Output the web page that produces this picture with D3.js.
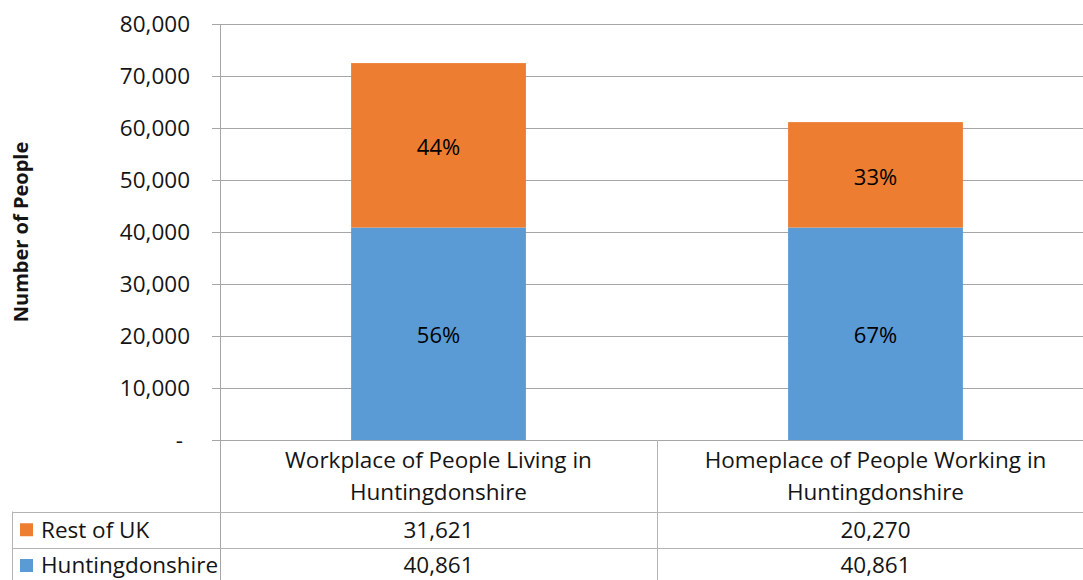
<!DOCTYPE html>
<html>
<head>
<meta charset="utf-8">
<script src="https://cdn.jsdelivr.net/npm/d3@7"></script>
<style>
  html, body { margin: 0; padding: 0; background: #fff; }
  svg { display: block; font-family: "Open Sans", "Noto Sans", sans-serif; }
</style>
</head>
<body>
<svg id="chart" width="1083" height="580"></svg>
<script>
// Commuting flows for Huntingdonshire, stacked by origin/destination
const categories = [
  ["Workplace of People Living in", "Huntingdonshire"],
  ["Homeplace of People Working in", "Huntingdonshire"]
];
const seriesNames = ["Huntingdonshire", "Rest of UK"];
const huntingdonshire = [40861, 40861];
const restOfUK = [31621, 20270];
const yTicks = [0, 10000, 20000, 30000, 40000, 50000, 60000, 70000, 80000];
const colors = { "Huntingdonshire": "#5b9bd5", "Rest of UK": "#ed7d31" };

const rows = categories.map((c, i) => ({
  key: i,
  "Huntingdonshire": huntingdonshire[i],
  "Rest of UK": restOfUK[i]
}));

const svg = d3.select("#chart");
const W = 1083;
const FS = 22.5;

const plot = { left: 220, right: 1094, top: 24, bottom: 440 };
const tableTop = 511.5, rowDiv = 548, tableBottom = 585, tableLeft = 12;

const x = d3.scaleBand()
  .domain(rows.map(d => d.key))
  .range([plot.left, plot.right])
  .paddingInner(0.6)
  .paddingOuter(0.3);

const y = d3.scaleLinear()
  .domain([0, 80000])
  .range([plot.bottom, plot.top]);

const gridColor = "#a6a6a6";
const tableColor = "#b4b4b4";
const textColor = "#141414";
const fmt = d3.format(",");

// Horizontal gridlines with outside tick marks
const yAxis = d3.axisLeft(y)
  .tickValues(yTicks)
  .tickSize(-(W - plot.left))
  .tickPadding(30)
  .tickFormat(d => d === 0 ? "-" : fmt(d));

const gy = svg.append("g")
  .attr("transform", `translate(${plot.left},0)`)
  .call(yAxis);
gy.select(".domain").remove();
gy.selectAll(".tick line").attr("stroke", gridColor).attr("stroke-width", 1)
  .attr("x1", -8);
gy.selectAll(".tick text")
  .attr("font-size", FS)
  .attr("fill", textColor)
  .attr("x", -30)
  .attr("font-family", "'Open Sans', sans-serif")
  .each(function(d) { if (d === 0) d3.select(this).attr("x", -37); });

// Stacked bars
const stack = d3.stack().keys(seriesNames);
const layers = stack(rows);

svg.append("g").selectAll("g")
  .data(layers)
  .join("g")
  .attr("fill", d => colors[d.key])
  .selectAll("rect")
  .data(d => d)
  .join("rect")
  .attr("x", d => x(d.data.key))
  .attr("width", x.bandwidth())
  .attr("y", d => y(d[1]))
  .attr("height", d => y(d[0]) - y(d[1]));

// Share of each segment in its bar
svg.append("g").selectAll("g")
  .data(layers)
  .join("g")
  .selectAll("text")
  .data(d => d.map(s => ({ s, key: d.key })))
  .join("text")
  .attr("x", d => x(d.s.data.key) + x.bandwidth() / 2)
  .attr("y", d => (y(d.s[0]) + y(d.s[1])) / 2 + 2)
  .attr("dy", "0.35em")
  .attr("text-anchor", "middle")
  .attr("font-size", 22)
  .attr("fill", "#000")
  .text(d => {
    const total = d.s.data["Huntingdonshire"] + d.s.data["Rest of UK"];
    return Math.round(100 * d.s.data[d.key] / total) + "%";
  });

// Axis and data table lines
const lines = svg.append("g").attr("stroke-width", 1).attr("fill", "none");
lines.append("line").attr("x1", plot.left - 8).attr("x2", W)
  .attr("y1", plot.bottom + 0.5).attr("y2", plot.bottom + 0.5).attr("stroke", gridColor);
lines.append("line").attr("x1", plot.left + 0.5).attr("x2", plot.left + 0.5)
  .attr("y1", plot.top).attr("y2", tableBottom).attr("stroke", gridColor);
x.domain().forEach((k, i) => {
  if (i > 0) {
    const xe = Math.round(x(k) - x.step() * x.paddingInner() / 2) + 0.5;
    lines.append("line").attr("x1", xe).attr("x2", xe)
      .attr("y1", plot.bottom).attr("y2", tableBottom).attr("stroke", tableColor);
  }
});
[tableTop, rowDiv].forEach(yy => {
  lines.append("line").attr("x1", tableLeft).attr("x2", W)
    .attr("y1", Math.round(yy) + 0.5).attr("y2", Math.round(yy) + 0.5).attr("stroke", tableColor);
});
lines.append("line").attr("x1", tableLeft + 0.5).attr("x2", tableLeft + 0.5)
  .attr("y1", tableTop).attr("y2", tableBottom).attr("stroke", tableColor);

// Category labels
const cx = k => x(k) + x.bandwidth() / 2;
const catG = svg.append("g");
categories.forEach((lines2, i) => {
  const t = catG.append("text")
    .attr("text-anchor", "middle")
    .attr("font-size", FS)
    .attr("fill", textColor);
  lines2.forEach((ln, j) => {
    t.append("tspan").attr("x", cx(i)).attr("y", 460 + j * 32).attr("dy", "0.35em").text(ln);
  });
});

// Data table rows: series legend keys and values
const tableRows = [
  { name: "Rest of UK", values: restOfUK, yc: (tableTop + rowDiv) / 2 },
  { name: "Huntingdonshire", values: huntingdonshire, yc: 565.5 }
];
const tg = svg.append("g");
tableRows.forEach(r => {
  tg.append("rect").attr("x", 20).attr("y", r.yc - 6.5).attr("width", 13).attr("height", 13)
    .attr("fill", colors[r.name]);
  tg.append("text").attr("x", 41).attr("y", r.yc).attr("dy", "0.35em")
    .attr("font-size", FS).attr("fill", textColor).text(r.name);
  r.values.forEach((v, i) => {
    tg.append("text").attr("x", cx(i)).attr("y", r.yc).attr("dy", "0.35em")
      .attr("text-anchor", "middle").attr("font-size", FS).attr("fill", textColor)
      .text(fmt(v));
  });
});

// Value axis title
svg.append("text")
  .attr("transform", `translate(28,232) rotate(-90)`)
  .attr("text-anchor", "middle")
  .attr("font-size", 20)
  .attr("font-weight", "bold")
  .attr("fill", textColor)
  .text("Number of People");
</script>
</body>
</html>
